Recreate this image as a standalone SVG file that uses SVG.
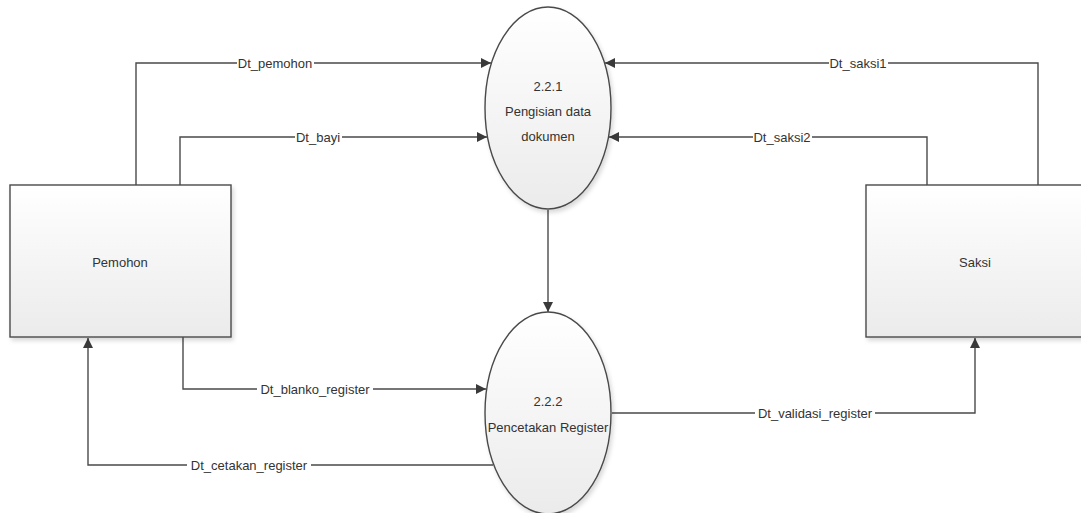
<svg xmlns="http://www.w3.org/2000/svg" width="1081" height="513" viewBox="0 0 1081 513">
<style>
.shape{stroke:#4a4a4a;stroke-width:1.4}
.line{fill:none;stroke:#4a4a4a;stroke-width:1.4}
.t{font-family:"Liberation Sans",Arial,sans-serif;font-size:13px;fill:#333;text-anchor:middle;dominant-baseline:central}
.lb{fill:#ffffff}
</style>
<defs>
<linearGradient id="g" x1="0" y1="0" x2="0" y2="1">
<stop offset="0" stop-color="#ffffff"/>
<stop offset="1" stop-color="#ebebeb"/>
</linearGradient>
<marker id="a" viewBox="0 0 10 10" refX="10" refY="5" markerWidth="10" markerHeight="10" markerUnits="userSpaceOnUse" orient="auto">
<path d="M0,0 L10,5 L0,10 Z" fill="#3a3a3a"/>
</marker>
<filter id="sh" x="-10%" y="-10%" width="130%" height="130%">
<feDropShadow dx="2" dy="3" stdDeviation="2" flood-color="#000" flood-opacity="0.15"/>
</filter>
</defs>
<rect width="1081" height="513" fill="#ffffff"/>

<g id="connectors">
<path class="line" marker-end="url(#a)" d="M136,185 V63 H491"/>
<path class="line" marker-end="url(#a)" d="M180,185 V137 H487"/>
<path class="line" marker-end="url(#a)" d="M1038,185 V63 H605"/>
<path class="line" marker-end="url(#a)" d="M927,185 V137 H609"/>
<path class="line" marker-end="url(#a)" d="M548,210 V312"/>
<path class="line" marker-end="url(#a)" d="M183,337 V389 H486"/>
<path class="line" marker-end="url(#a)" d="M493,465 H88 V338"/>
<path class="line" marker-end="url(#a)" d="M612,413 H975 V338"/>
<rect class="lb" x="237" y="55" width="77" height="16"/>
<text class="t" x="275" y="63">Dt_pemohon</text>
<rect class="lb" x="295" y="129" width="47" height="16"/>
<text class="t" x="318" y="137">Dt_bayi</text>
<rect class="lb" x="829" y="55" width="59" height="16"/>
<text class="t" x="858" y="63">Dt_saksi1</text>
<rect class="lb" x="753" y="129" width="59" height="16"/>
<text class="t" x="782" y="137">Dt_saksi2</text>
<rect class="lb" x="257" y="381" width="116" height="16"/>
<text class="t" x="315" y="389">Dt_blanko_register</text>
<rect class="lb" x="187" y="457" width="124" height="16"/>
<text class="t" x="249" y="465">Dt_cetakan_register</text>
<rect class="lb" x="755" y="405" width="120" height="16"/>
<text class="t" x="815" y="413">Dt_validasi_register</text>
</g>

<g id="pemohon">
<rect class="shape" x="10" y="185" width="221" height="152" fill="url(#g)" filter="url(#sh)"/>
<text class="t" x="120" y="262">Pemohon</text>
</g>

<g id="saksi">
<rect class="shape" x="866" y="185" width="220" height="152" fill="url(#g)" filter="url(#sh)"/>
<text class="t" x="975" y="262">Saksi</text>
</g>

<g id="p221">
<ellipse class="shape" cx="548" cy="108" rx="63" ry="101" fill="url(#g)" filter="url(#sh)"/>
<text class="t" x="548" y="86">2.2.1</text>
<text class="t" x="548" y="111">Pengisian data</text>
<text class="t" x="548" y="136">dokumen</text>
</g>

<g id="p222">
<ellipse class="shape" cx="548" cy="413" rx="63" ry="101" fill="url(#g)" filter="url(#sh)"/>
<text class="t" x="548" y="401">2.2.2</text>
<text class="t" x="548" y="427">Pencetakan Register</text>
</g>
</svg>
